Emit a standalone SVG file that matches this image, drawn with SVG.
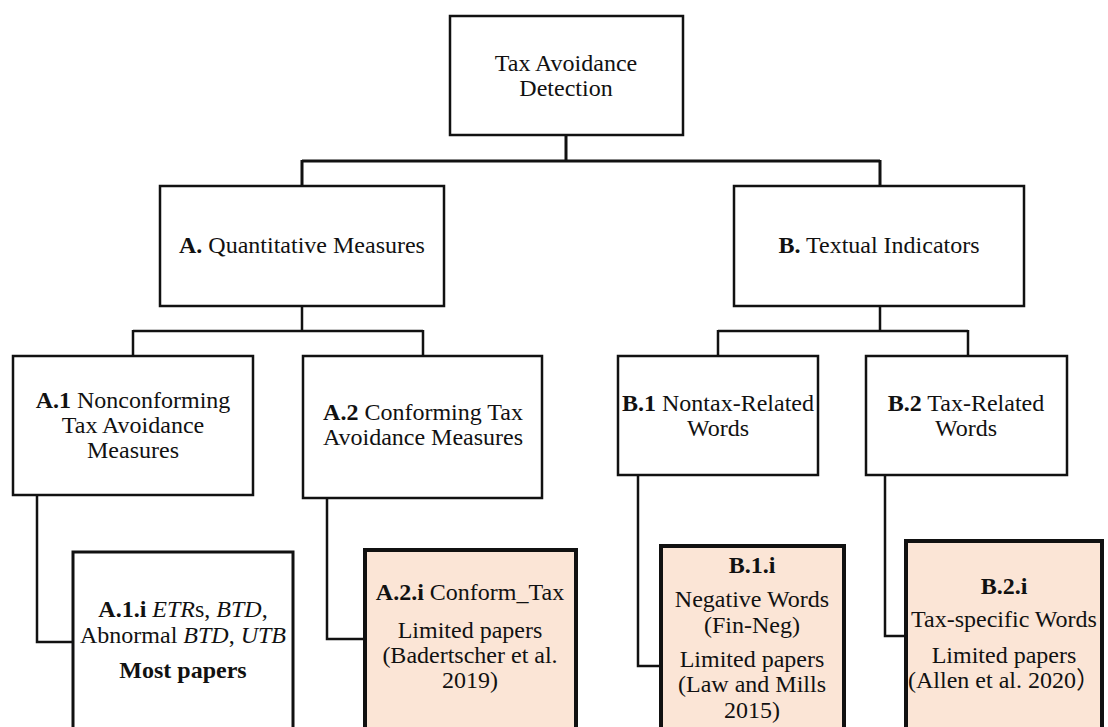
<svg xmlns="http://www.w3.org/2000/svg" width="1108" height="727" viewBox="0 0 1108 727">
<style>
.box{fill:#ffffff;stroke:#111;stroke-width:2.5}
.hl{fill:#fbe5d6;stroke:#111;stroke-width:4}
.lf{fill:#ffffff;stroke:#111;stroke-width:3}
.t{font-family:"Liberation Serif","Times New Roman",serif;font-size:24px;fill:#111;text-anchor:middle}
.b{font-weight:bold}
.i{font-style:italic}
.c{fill:none;stroke:#111;stroke-width:2.5}
</style>
<rect width="1108" height="727" fill="#ffffff"/>
<g id="connectors">
<path class="c" d="M566,135 V161 M302,161 H880 M302,160 V186 M880,160 V186" style="stroke-width:3"/>
<path class="c" d="M302,306 V331 M133,331 H423 M133,330 V356 M423,330 V356"/>
<path class="c" d="M880,306 V331 M718,331 H968 M718,330 V356 M968,330 V356"/>
<path class="c" d="M37,495 V642 H73"/>
<path class="c" d="M327,498 V639 H365"/>
<path class="c" d="M638,475 V666 H661"/>
<path class="c" d="M885,475 V636 H906"/>
</g>
<g id="root">
<rect class="box" x="450" y="16" width="233" height="119"/>
<text class="t" x="566" y="71">Tax Avoidance</text>
<text class="t" x="566" y="96">Detection</text>
</g>
<g id="A">
<rect class="box" x="160" y="186" width="284" height="120"/>
<text class="t" x="302" y="253"><tspan class="b">A.</tspan> Quantitative Measures</text>
</g>
<g id="B">
<rect class="box" x="734" y="186" width="290" height="120"/>
<text class="t" x="879" y="253"><tspan class="b">B.</tspan> Textual Indicators</text>
</g>
<g id="A1">
<rect class="box" x="13" y="356" width="240" height="139"/>
<text class="t" x="133" y="408"><tspan class="b">A.1</tspan> Nonconforming</text>
<text class="t" x="133" y="433">Tax Avoidance</text>
<text class="t" x="133" y="458">Measures</text>
</g>
<g id="A2">
<rect class="box" x="303" y="356" width="239" height="142"/>
<text class="t" x="423" y="420"><tspan class="b">A.2</tspan> Conforming Tax</text>
<text class="t" x="423" y="445">Avoidance Measures</text>
</g>
<g id="B1">
<rect class="box" x="618" y="356" width="200" height="119"/>
<text class="t" x="718" y="411"><tspan class="b">B.1</tspan> Nontax-Related</text>
<text class="t" x="718" y="436">Words</text>
</g>
<g id="B2">
<rect class="box" x="866" y="356" width="201" height="119"/>
<text class="t" x="966" y="411"><tspan class="b">B.2</tspan> Tax-Related</text>
<text class="t" x="966" y="436">Words</text>
</g>
<g id="A1i">
<rect class="lf" x="73" y="552" width="220" height="200"/>
<text class="t" x="183" y="617"><tspan class="b">A.1.i</tspan> <tspan class="i">ETR</tspan>s, <tspan class="i">BTD</tspan>,</text>
<text class="t" x="183" y="643">Abnormal <tspan class="i">BTD</tspan>, <tspan class="i">UTB</tspan></text>
<text class="t b" x="183" y="678">Most papers</text>
</g>
<g id="A2i">
<rect class="hl" x="365" y="550" width="211" height="200"/>
<text class="t" x="470" y="600"><tspan class="b">A.2.i</tspan> Conform_Tax</text>
<text class="t" x="470" y="638">Limited papers</text>
<text class="t" x="470" y="663">(Badertscher et al.</text>
<text class="t" x="470" y="688">2019)</text>
</g>
<g id="B1i">
<rect class="hl" x="661" y="546" width="183" height="200"/>
<text class="t b" x="752" y="573">B.1.i</text>
<text class="t" x="752" y="607">Negative Words</text>
<text class="t" x="752" y="633">(Fin-Neg)</text>
<text class="t" x="752" y="667">Limited papers</text>
<text class="t" x="752" y="692">(Law and Mills</text>
<text class="t" x="752" y="718">2015)</text>
</g>
<g id="B2i">
<rect class="hl" x="906" y="541" width="196" height="200"/>
<text class="t b" x="1004" y="594">B.2.i</text>
<text class="t" x="1004" y="627">Tax-specific Words</text>
<text class="t" x="1004" y="663">Limited papers</text>
<text class="t" x="1004" y="688">(Allen et al. 2020<tspan style="font-family:'Noto Sans CJK SC',sans-serif">）</tspan></text>
</g>
</svg>
